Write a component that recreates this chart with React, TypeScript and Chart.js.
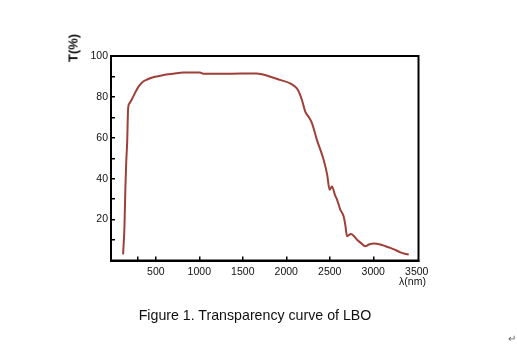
import React, { useEffect, useRef } from "react";
import { Chart, registerables } from "chart.js";

Chart.register(...registerables);

const wavelengthNm = [124, 140, 150, 160, 171, 182, 200, 221, 250, 279, 310, 355, 400, 470, 550, 624, 700, 816, 1008, 1046, 1300, 1661, 1800, 1930, 2050, 2122, 2150, 2180, 2218, 2260, 2295, 2352, 2429, 2470, 2498, 2525, 2560, 2583, 2620, 2659, 2680, 2698, 2744, 2813, 2860, 2909, 2950, 3005, 3082, 3140, 3197, 3260, 3312, 3360, 3408];
const transmission = [3, 17, 35, 48, 58, 74.5, 77, 78.5, 81, 83.4, 85.5, 87.5, 88.5, 89.6, 90.3, 90.9, 91.3, 91.9, 91.9, 91.3, 91.3, 91.5, 90.1, 88.3, 86.5, 84.2, 82, 78.5, 72.8, 70, 67.2, 59, 49.3, 42, 34.6, 36.2, 32, 29.8, 25, 21.6, 17, 11.9, 13, 10.2, 8.5, 7, 7.8, 8.3, 7.8, 7, 6.2, 5, 4, 3.3, 2.9];
const xTickValues = [290, 500, 1000, 1500, 2000, 2500, 3000, 3500];
const xTickLabels = ["", "500", "1000", "1500", "2000", "2500", "3000", "3500"];
const yLabelValues = [20, 40, 60, 80, 100];

const tickFont = { family: "'Liberation Sans', Arial, sans-serif", size: 10.5 };

const framePlugin = {
  id: "frame",
  afterDraw(chart: any) {
    const { ctx, chartArea } = chart;
    ctx.save();
    ctx.strokeStyle = "#000";
    ctx.lineWidth = 2;
    ctx.strokeRect(chartArea.left, chartArea.top, chartArea.right - chartArea.left, chartArea.bottom - chartArea.top);
    ctx.restore();
  },
};

export default function App() {
  const ref = useRef<HTMLCanvasElement>(null);
  useEffect(() => {
    if (!ref.current) return;
    const chart = new Chart(ref.current, {
      type: "line",
      data: {
        datasets: [
          {
            data: wavelengthNm.map((x, i) => ({ x, y: transmission[i] })),
            borderColor: "#9e3f38",
            borderWidth: 2,
            pointRadius: 0,
            cubicInterpolationMode: "monotone",
            fill: false,
          },
        ],
      },
      options: {
        animation: false,
        responsive: false,
        devicePixelRatio: 1,
        layout: { padding: { left: 0, top: 56, right: 98.5, bottom: 0 } },
        plugins: { legend: { display: false }, tooltip: { enabled: false } },
        scales: {
          x: {
            type: "linear",
            min: -15,
            max: 3520,
            border: { display: true, color: "#000", width: 2 },
            grid: {
              drawOnChartArea: false,
              tickLength: -4,
              lineWidth: 1.5,
              color: (c: any) => (c.tick && c.tick.value === 3500 ? "rgba(0,0,0,0)" : "#000"),
            },
            ticks: {
              font: tickFont,
              color: "#111",
              padding: 9,
              maxRotation: 0,
              autoSkip: false,
              callback: (v: any) => {
                const i = xTickValues.indexOf(Number(v));
                return i >= 0 ? xTickLabels[i] : "";
              },
            },
            afterBuildTicks: (s: any) => {
              s.ticks = xTickValues.map((value) => ({ value }));
            },
            afterFit: (s: any) => {
              s.height = 87.5;
            },
          },
          y: {
            type: "linear",
            min: 0,
            max: 100,
            border: { display: true, color: "#000", width: 2 },
            grid: {
              drawOnChartArea: false,
              tickLength: -4,
              lineWidth: 1.5,
              color: (c: any) => (c.tick && (c.tick.value === 0 || c.tick.value === 100) ? "rgba(0,0,0,0)" : "#000"),
            },
            ticks: {
              stepSize: 10,
              font: tickFont,
              color: "#111",
              padding: 7,
              autoSkip: false,
              callback: (v: any) => (yLabelValues.includes(Number(v)) ? String(v) : ""),
            },
            afterFit: (s: any) => {
              s.width = 111;
            },
          },
        },
      },
      plugins: [framePlugin],
    });
    return () => chart.destroy();
  }, []);

  const base: React.CSSProperties = {
    position: "absolute",
    fontFamily: "'Liberation Sans', Arial, sans-serif",
    color: "#111",
    whiteSpace: "nowrap",
    lineHeight: 1,
  };

  return (
    <div style={{ position: "fixed", left: 0, top: 0, width: 517, height: 348, background: "#fff", overflow: "hidden" }}>
      <canvas ref={ref} width={517} height={348} style={{ position: "absolute", left: 0, top: 0, width: 517, height: 348 }} />
      <div
        style={{
          ...base,
          left: 73,
          top: 48,
          fontSize: 13,
          fontWeight: "bold",
          transform: "translate(-50%, -50%) rotate(-90deg)",
        }}
      >
        T(%)
      </div>
      <div style={{ ...base, left: 412.5, top: 281, fontSize: 10.5, transform: "translate(-50%, -50%)" }}>λ(nm)</div>
      <div style={{ ...base, left: 255, top: 315, fontSize: 14.2, transform: "translate(-50%, -50%)" }}>
        Figure 1. Transparency curve of LBO
      </div>
      <div style={{ ...base, left: 512, top: 339, fontSize: 10, color: "#666", transform: "translate(-50%, -50%)" }}>↵</div>
    </div>
  );
}
